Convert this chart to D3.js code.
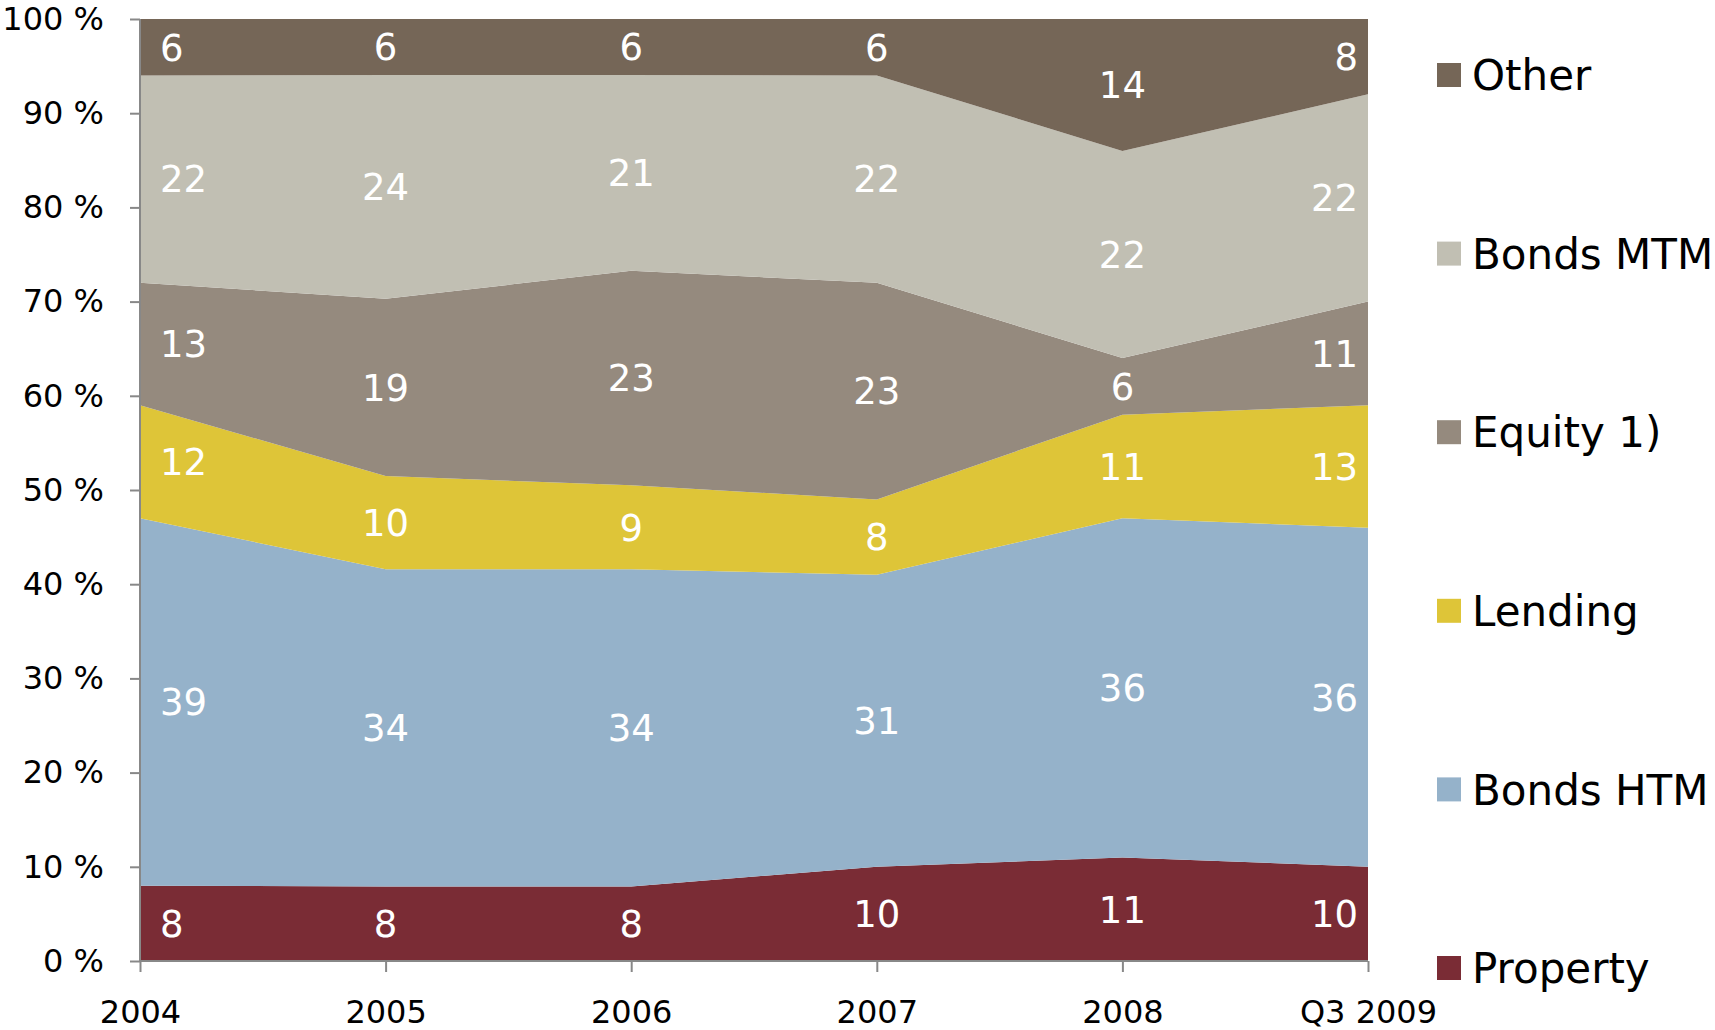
<!DOCTYPE html>
<html lang="en">
<head>
    <meta charset="UTF-8">
    <title>Asset allocation</title>
    <script src="https://d3js.org/d3.v7.min.js"></script>
    <style>
        body { margin: 0; background: #fff; }
        text { font-family: "DejaVu Sans", Verdana, sans-serif; }
    </style>
</head>
<body>
    <div id="chart"></div>
    <script>
        // categories and series (bottom to top)
        const years = ["2004", "2005", "2006", "2007", "2008", "Q3 2009"];
        const seriesNames = ["Property", "Bonds HTM", "Lending", "Equity 1)", "Bonds MTM", "Other"];
        const property = [8, 8, 8, 10, 11, 10];
        const bondsHTM = [39, 34, 34, 31, 36, 36];
        const lending = [12, 10, 9, 8, 11, 13];
        const equity = [13, 19, 23, 23, 6, 11];
        const bondsMTM = [22, 24, 21, 22, 22, 22];
        const other = [6, 6, 6, 6, 14, 8];
        const colors = ["#7a2c35", "#95b2ca", "#dec538", "#958a7e", "#c1bfb3", "#756657"];
        const yTicks = [0, 0.1, 0.2, 0.3, 0.4, 0.5, 0.6, 0.7, 0.8, 0.9, 1];

        const allSeries = [property, bondsHTM, lending, equity, bondsMTM, other];

        const width = 1715;
        const height = 1030;
        const margin = { top: 19, bottom: 69, left: 140, right: 347 };

        // rows for d3.stack
        const rows = years.map((y, i) => {
            const row = { year: y };
            seriesNames.forEach((s, k) => row[s] = allSeries[k][i]);
            return row;
        });

        const stacked = d3.stack()
            .keys(seriesNames)
            .offset(d3.stackOffsetExpand)(rows);

        const xScale = d3.scalePoint()
            .domain(years)
            .range([margin.left, width - margin.right]);

        const yScale = d3.scaleLinear()
            .domain([0, 1])
            .range([height - margin.bottom, margin.top]);

        const svg = d3.select("#chart")
            .append("svg")
            .attr("width", width)
            .attr("height", height);

        const area = d3.area()
            .x(d => xScale(d.data.year))
            .y0(d => yScale(d[0]))
            .y1(d => yScale(d[1]));

        // areas
        svg.selectAll(".layer")
            .data(stacked)
            .enter()
            .append("path")
            .attr("class", "layer")
            .attr("fill", (d, i) => colors[i])
            .attr("d", area);

        // data labels
        const last = years.length - 1;
        stacked.forEach((layer, k) => {
            svg.selectAll(`.lbl-${k}`)
                .data(layer)
                .enter()
                .append("text")
                .attr("x", (d, i) => i === 0 ? xScale(years[i]) + 20 : i === last ? xScale(years[i]) - 10 : xScale(years[i]))
                .attr("y", d => yScale((d[0] + d[1]) / 2))
                .attr("dy", "0.36em")
                .attr("text-anchor", (d, i) => i === 0 ? "start" : i === last ? "end" : "middle")
                .attr("fill", "#fff")
                .attr("font-size", 37)
                .text((d, i) => allSeries[k][i]);
        });

        // y axis
        const yAxis = svg.append("g")
            .attr("transform", `translate(${margin.left},0)`)
            .call(d3.axisLeft(yScale).tickValues(yTicks).tickFormat(d => Math.round(d * 100) + " %").tickSize(10).tickPadding(26));
        yAxis.selectAll("text").attr("font-size", 32).attr("fill", "#000").attr("font-family", "DejaVu Sans");

        // x axis
        const xAxis = svg.append("g")
            .attr("transform", `translate(0,${height - margin.bottom})`)
            .call(d3.axisBottom(xScale).tickSize(11).tickPadding(28));
        xAxis.selectAll("text").attr("font-size", 32).attr("fill", "#000").attr("font-family", "DejaVu Sans");

        svg.selectAll(".domain, .tick line")
            .attr("stroke", "#888")
            .attr("stroke-width", 2);
        xAxis.select(".domain").attr("d", `M${margin.left},0H${width - margin.right}`);
        yAxis.select(".domain").attr("d", `M0,${yScale(0)}V${yScale(1)}`);

        // legend (top is Other)
        const legendScale = d3.scalePoint()
            .domain(seriesNames.slice().reverse())
            .range([75, 968]);

        const legend = svg.selectAll(".legend")
            .data(seriesNames)
            .enter()
            .append("g")
            .attr("transform", d => `translate(1437,${legendScale(d)})`);

        legend.append("rect")
            .attr("x", 0)
            .attr("y", -12)
            .attr("width", 24)
            .attr("height", 24)
            .attr("fill", (d, i) => colors[i]);

        legend.append("text")
            .attr("x", 35)
            .attr("y", 0)
            .attr("dy", "0.36em")
            .attr("font-size", 42)
            .attr("fill", "#000")
            .text(d => d);
    </script>
</body>
</html>
